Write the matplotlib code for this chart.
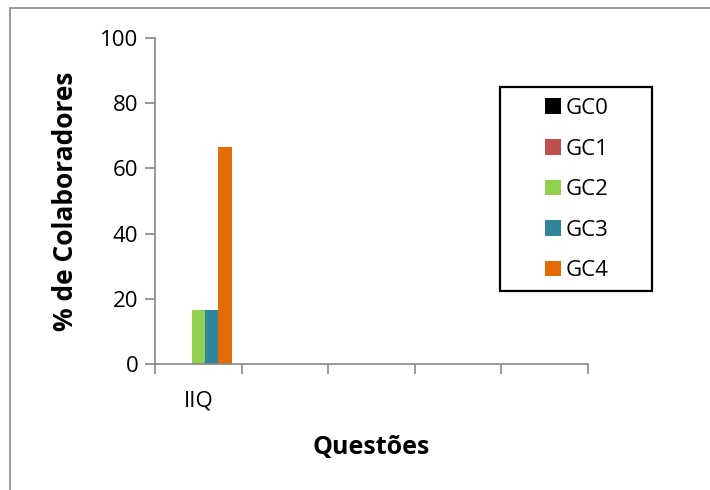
import matplotlib
matplotlib.use("Agg")
import matplotlib.pyplot as plt
import numpy as np
from matplotlib.patches import Rectangle

categories = ["IIQ", "", "", "", ""]
series = ["GC0", "GC1", "GC2", "GC3", "GC4"]
values = {
    "GC0": [0, 0, 0, 0, 0],
    "GC1": [0, 0, 0, 0, 0],
    "GC2": [16.67, 0, 0, 0, 0],
    "GC3": [16.67, 0, 0, 0, 0],
    "GC4": [66.67, 0, 0, 0, 0],
}
colors = ["#000000", "#C0504D", "#92D050", "#31859C", "#E36C09"]
yticks = [0, 20, 40, 60, 80, 100]

plt.rcParams['font.family'] = ['Open Sans', 'DejaVu Sans']

W, H = 710, 490
fig = plt.figure(figsize=(7.1, 4.9), dpi=100)
ax = fig.add_axes([155/W, 1-364/H, (588-155)/W, (364-38)/H])

# outer frame
fig.patches.append(Rectangle((10/W, -0.1), 1.2, 1-8/H+0.1, transform=fig.transFigure,
                             fill=False, edgecolor="#888888", linewidth=1.2))

n = len(series)
bw = 0.155
x = np.arange(len(categories))
for i, s in enumerate(series):
    off = (i - (n-1)/2) * bw
    ax.bar(x + off, values[s], width=bw, color=colors[i], label=s, linewidth=0)

ax.set_xlim(-0.5, len(categories)-0.5)
ax.set_ylim(0, 100)
ax.set_yticks(yticks)
ax.set_yticklabels([str(t) for t in yticks], fontsize=16)
ax.set_xticks(np.arange(len(categories)+1) - 0.5)
ax.set_xticklabels([])
ax.set_xticks(x, minor=True)
ax.set_xticklabels(categories, minor=True, fontsize=16)
ax.tick_params(axis='x', which='minor', length=0, pad=19)
ax.tick_params(axis='x', which='major', length=7, color="#868686", width=1.2)
ax.tick_params(axis='y', length=7, color="#868686", width=1.2, pad=5)

for sp in ['top', 'right']:
    ax.spines[sp].set_visible(False)
for sp in ['left', 'bottom']:
    ax.spines[sp].set_color("#868686")
    ax.spines[sp].set_linewidth(1.2)

ax.set_ylabel("% de Colaboradores", fontsize=19, fontweight='bold', labelpad=15)
ax.set_xlabel("Questões", fontsize=18, fontweight='bold', labelpad=17)

# legend frame
fig.patches.append(Rectangle((500/W, 1-291/H), 152/W, 204/H, transform=fig.transFigure,
                             fill=False, edgecolor="black", linewidth=1.6))
leg = fig.legend(loc='upper left', bbox_to_anchor=(545/W, 1-98/H),
                 fontsize=16, frameon=False, handlelength=0.7,
                 handleheight=0.7, labelspacing=0.88, borderpad=0, handletextpad=0.25,
                 borderaxespad=0)

fig.savefig("out.png", dpi=100)
